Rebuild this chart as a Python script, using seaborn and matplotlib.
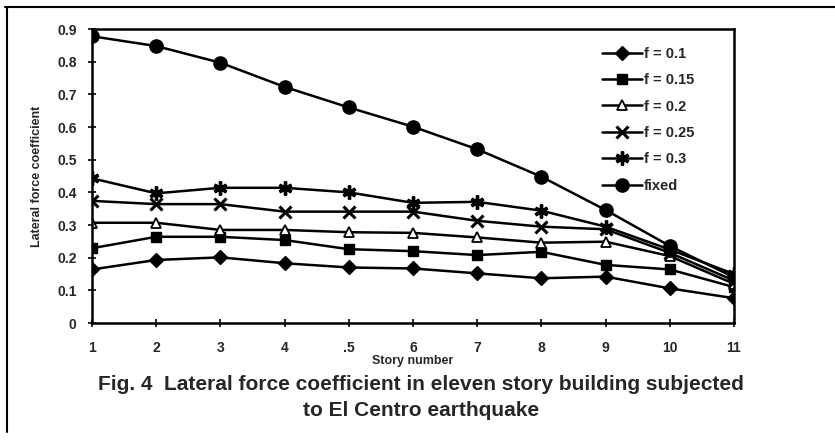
import numpy as np
import pandas as pd
import matplotlib
matplotlib.use("Agg")
import matplotlib.pyplot as plt
import seaborn as sns
from matplotlib.lines import Line2D

stories = [1, 2, 3, 4, 5, 6, 7, 8, 9, 10, 11]
x_tick_labels = ["1", "2", "3", "4", ".5", "6", "7", "8", "9", "10", "11"]
y_ticks = [0, 0.1, 0.2, 0.3, 0.4, 0.5, 0.6, 0.7, 0.8, 0.9]
y_tick_labels = ["0", "0.1", "0.2", "0.3", "0.4", "0.5", "0.6", "0.7", "0.8", "0.9"]

f_010 = [0.164, 0.193, 0.201, 0.183, 0.170, 0.167, 0.152, 0.137, 0.142, 0.106, 0.076]
f_015 = [0.229, 0.264, 0.264, 0.254, 0.226, 0.220, 0.208, 0.218, 0.178, 0.164, 0.110]
f_020 = [0.307, 0.307, 0.285, 0.285, 0.278, 0.276, 0.262, 0.246, 0.249, 0.205, 0.120]
f_025 = [0.374, 0.364, 0.364, 0.341, 0.341, 0.341, 0.313, 0.295, 0.287, 0.215, 0.130]
f_030 = [0.443, 0.397, 0.414, 0.414, 0.400, 0.368, 0.371, 0.344, 0.295, 0.225, 0.150]
fixed = [0.878, 0.848, 0.797, 0.723, 0.660, 0.601, 0.532, 0.448, 0.346, 0.236, 0.140]

series_names = ["f = 0.1", "f = 0.15", "f = 0.2", "f = 0.25", "f = 0.3", "fixed"]
series_values = [f_010, f_015, f_020, f_025, f_030, fixed]

sns.set_theme(style="white")
plt.rcParams["font.family"] = ["Liberation Sans", "DejaVu Sans"]
plt.rcParams["font.weight"] = "bold"

fig = plt.figure(figsize=(8.35, 4.4), dpi=100)
ax = fig.add_axes([0.1102, 0.2659, 0.7688, 0.668])

markers = ["D", "s", "^", "x", (6, 2, 0), "o"]
msizes = [7.5, 7.5, 7.5, 9, 10, 9.5]
mfaces = ["black", "black", "white", "black", "black", "black"]
mew = [1.0, 1.0, 1.3, 2.2, 2.4, 1.0]

handles = []
for name, vals, m, ms, fc, ew in zip(series_names, series_values, markers, msizes, mfaces, mew):
    df = pd.DataFrame({"story": stories, "coef": vals})
    sns.lineplot(data=df, x="story", y="coef", ax=ax, color="black",
                 linewidth=1.8, marker=m, markersize=ms,
                 markerfacecolor=fc, markeredgecolor="black",
                 markeredgewidth=ew, legend=False)
    handles.append(Line2D([], [], color="black", linewidth=1.8, marker=m,
                          markersize=ms, markerfacecolor=fc,
                          markeredgecolor="black", markeredgewidth=ew,
                          label=name))

ax.set_xlim(1, 11)
ax.set_ylim(0, 0.9)
ax.set_xticks(stories)
ax.set_xticklabels(x_tick_labels, fontsize=10, fontweight="bold")
ax.set_yticks(y_ticks)
ax.set_yticklabels(y_tick_labels, fontsize=10, fontweight="bold")
ax.tick_params(axis="x", direction="inout", length=6, width=1.2,
               color="black", bottom=True, pad=10)
ax.tick_params(axis="y", direction="inout", length=6, width=1.2,
               color="black", left=True, pad=8)
for s in ax.spines.values():
    s.set_color("black")
    s.set_linewidth(1.8)

ax.set_xlabel("Story number", fontsize=9, fontweight="bold", labelpad=0)
ax.set_ylabel("Lateral force coefficient", fontsize=9, fontweight="bold", labelpad=10)

leg = ax.legend(handles=handles, loc="upper left", bbox_to_anchor=(0.795, 0.94),
                frameon=False, fontsize=10.5, handlelength=2.7, handletextpad=0.15,
                labelspacing=0.85, borderpad=0, borderaxespad=0)
for t in leg.get_texts():
    t.set_fontweight("bold")

fig.text(0.504, 1 - 384 / 440, "Fig. 4  Lateral force coefficient in eleven story building subjected",
         ha="center", va="center", fontsize=15, fontweight="bold")
fig.text(0.504, 1 - 410 / 440, "to El Centro earthquake",
         ha="center", va="center", fontsize=15, fontweight="bold")

# figure frame lines (top and left)
fig.add_artist(Line2D([5 / 835, 1.0], [1 - 7 / 440, 1 - 7 / 440], transform=fig.transFigure,
                      color="black", linewidth=1.5))
fig.add_artist(Line2D([7 / 835, 7 / 835], [1 - 7 / 440, 1 - 432 / 440], transform=fig.transFigure,
                      color="black", linewidth=1.5))

fig.savefig("out.png", dpi=100, facecolor="white")
